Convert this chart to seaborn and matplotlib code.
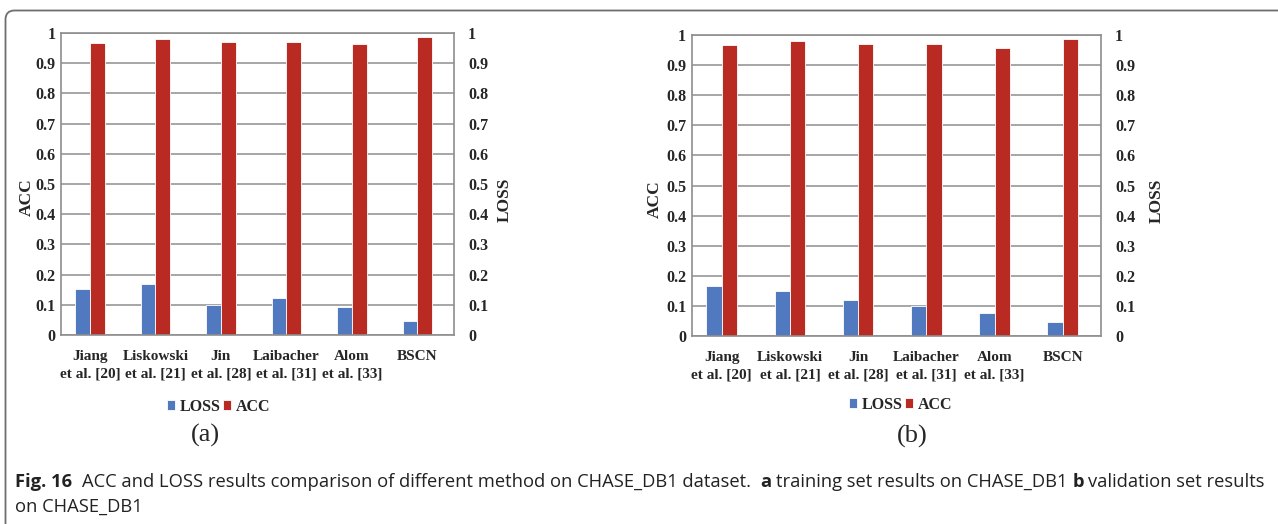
import numpy as np
import pandas as pd
import matplotlib
matplotlib.use("Agg")
import matplotlib.pyplot as plt
import seaborn as sns
from matplotlib import font_manager
from matplotlib.patches import FancyBboxPatch

methods = ["Jiang\net al. [20]", "Liskowski\net al. [21]", "Jin\net al. [28]",
           "Laibacher\net al. [31]", "Alom\net al. [33]", "BSCN"]
metrics = ["LOSS", "ACC"]

# (a) training set, (b) validation set
train_loss = [0.151, 0.168, 0.100, 0.121, 0.092, 0.048]
train_acc = [0.967, 0.979, 0.971, 0.971, 0.964, 0.988]
valid_loss = [0.167, 0.151, 0.121, 0.100, 0.078, 0.048]
valid_acc = [0.967, 0.980, 0.971, 0.971, 0.958, 0.988]

yticks = [0, 0.1, 0.2, 0.3, 0.4, 0.5, 0.6, 0.7, 0.8, 0.9, 1]
ytick_labels = ["0", "0.1", "0.2", "0.3", "0.4", "0.5", "0.6", "0.7", "0.8", "0.9", "1"]

caption_line1 = [("Fig. 16", "bold"),
                 ("ACC and LOSS results comparison of different method on CHASE_DB1 dataset.", "normal"),
                 ("a", "bold"), ("training set results on CHASE_DB1", "normal"),
                 ("b", "bold"), ("validation set results", "normal")]
caption_gaps = [2, 2, 1, 1, 1, 0]  # spaces after each piece
caption_line2 = "on CHASE_DB1"

BLUE = "#5079C0"
RED = "#B92A23"
GRID = "#8e8e8e"

W, H = 1278, 524
sns.set_style("white")
plt.rcParams["font.family"] = ["Liberation Serif", "DejaVu Serif"]
plt.rcParams["font.weight"] = "bold"
plt.rcParams["font.size"] = 11.5

fig = plt.figure(figsize=(W / 100, H / 100), dpi=100)


def to_long(loss, acc):
    return pd.DataFrame({"method": methods * 2,
                         "metric": ["LOSS"] * len(methods) + ["ACC"] * len(methods),
                         "value": loss + acc})


def draw_panel(rect, loss, acc):
    ax = fig.add_axes(rect)
    sns.barplot(data=to_long(loss, acc), x="method", y="value", hue="metric",
                order=methods, hue_order=metrics, palette=[BLUE, RED],
                saturation=1, width=0.45, edgecolor="white", linewidth=0.6, ax=ax)
    handles, labels = ax.get_legend_handles_labels()
    ax.get_legend().remove()
    ax.set_xlim(-0.44, len(methods) - 0.44)
    ax.set_ylim(0, 1)
    ax.set_yticks(yticks, ytick_labels)
    ax.set_xlabel("")
    ax.set_ylabel("")
    ax.set_axisbelow(True)
    ax.yaxis.grid(True, color=GRID, lw=1.1)
    for s in ax.spines.values():
        s.set_visible(True)
        s.set_color(GRID)
        s.set_linewidth(1.2)
    ax.tick_params(axis="y", length=0, pad=4)
    ax.tick_params(axis="x", length=0, pad=11, labelsize=11)
    for t in ax.get_xticklabels():
        t.set_linespacing(1.45)
    ax2 = ax.twinx()
    ax2.set_ylim(0, 1)
    ax2.set_yticks(yticks, ytick_labels)
    ax2.tick_params(length=0, pad=10)
    for s in ax2.spines.values():
        s.set_visible(False)
    return ax, handles, labels


panels = [
    ([61 / W, 1 - 335 / H, 393 / W, 302 / H], train_loss, train_acc,
     (219 / W, 1 - 407 / H), "(a)", (205 / W, 1 - 435 / H),
     (27 / W, 1 - 197 / H), (505 / W, 1 - 200 / H)),
    ([691.7 / W, 1 - 336 / H, 409.3 / W, 301 / H], valid_loss, valid_acc,
     (901 / W, 1 - 405 / H), "(b)", (912 / W, 1 - 436 / H),
     (655 / W, 1 - 199 / H), (1157 / W, 1 - 201 / H)),
]

for rect, loss, acc, leg_xy, tag, tag_xy, acc_xy, loss_xy in panels:
    ax, handles, labels = draw_panel(rect, loss, acc)
    fig.legend(handles, labels, loc="center", bbox_to_anchor=leg_xy, ncol=2,
               frameon=False, handlelength=0.5, handleheight=0.6,
               handletextpad=0.3, columnspacing=0.15, fontsize=11.5)
    fig.text(*tag_xy, tag, ha="center", va="center", fontsize=19, fontweight="normal")
    fig.text(*acc_xy, "ACC", ha="center", va="center", rotation=90, fontsize=12.5)
    fig.text(*loss_xy, "LOSS", ha="center", va="center", rotation=90, fontsize=12.5)

# outer frame with rounded corner, running off the right and bottom edges
frame = FancyBboxPatch((0.055, -1.0), 14.0, (H - 10.5) / 100 + 1.0,
                       boxstyle="round,pad=0,rounding_size=0.09",
                       transform=fig.dpi_scale_trans, fill=False,
                       edgecolor="#6e6e6e", lw=1.3)
fig.add_artist(frame)

# caption, pieces laid out one after another and fitted to the line width
names = {f.name for f in font_manager.fontManager.ttflist}
cap_font = "Liberation Sans Narrow" if "Liberation Sans Narrow" in names else "Open Sans"
renderer = fig.canvas.get_renderer()


def text_w(s, fs, weight):
    t = fig.text(0, 0, s, fontsize=fs, family=cap_font, fontweight=weight)
    w = t.get_window_extent(renderer).width
    t.remove()
    return w


def line_width(fs):
    sp = text_w("x x", fs, "normal") - text_w("xx", fs, "normal")
    total = 0
    for (s, wt), g in zip(caption_line1, caption_gaps):
        total += text_w(s, fs, wt) + g * sp
    return total, sp


w10, _ = line_width(10)
cap_fs = 10 * (1270 - 15) / w10
_, space = line_width(cap_fs)
x = 15
for (s, wt), g in zip(caption_line1, caption_gaps):
    t = fig.text(x / W, 1 - 487 / H, s, fontsize=cap_fs, family=cap_font,
                 fontweight=wt, va="baseline", ha="left", color="#222222")
    x += t.get_window_extent(renderer).width + g * space
fig.text(15 / W, 1 - 512 / H, caption_line2, fontsize=cap_fs, family=cap_font,
         fontweight="normal", va="baseline", ha="left", color="#222222")

fig.savefig("out.png", dpi=100)
